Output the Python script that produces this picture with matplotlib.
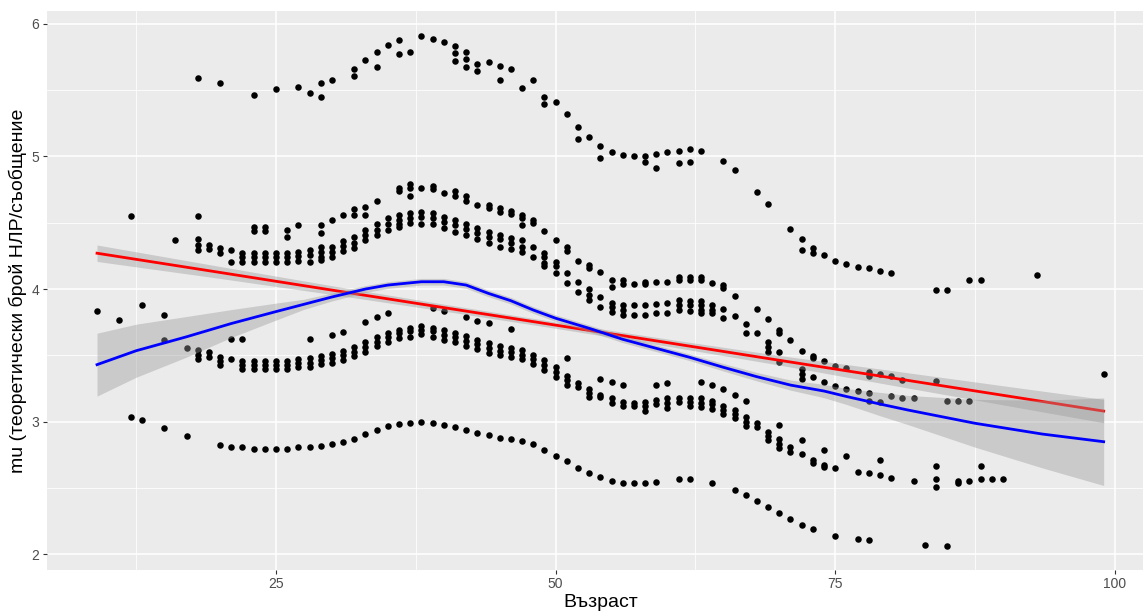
import matplotlib
matplotlib.use('Agg')
import matplotlib.pyplot as plt

plt.rcParams['font.family'] = ['Liberation Sans', 'DejaVu Sans']

# --- points, one list of mu values per age ---

top_age = [18, 20, 23, 25, 27, 28, 29, 30, 32, 33, 34, 35, 36, 37, 38, 39, 40, 41,
           42, 43, 44, 45, 46, 47, 48, 49, 50, 51, 52, 53, 54, 55, 56, 57, 58, 59,
           60, 61, 62, 63, 65, 66, 68, 69, 71, 72, 73, 74, 75, 76, 77, 78, 79, 80,
           84, 85, 87, 88, 93]
top_mu = [[5.59], [5.555], [5.46], [5.51], [5.52], [5.48], [5.555, 5.445], [5.573],
          [5.658, 5.606], [5.726], [5.784, 5.676], [5.84], [5.88, 5.77], [5.784],
          [5.907], [5.887], [5.864], [5.832, 5.777, 5.719], [5.787, 5.736, 5.674],
          [5.694, 5.641], [5.709], [5.683, 5.573], [5.658], [5.513], [5.573],
          [5.447, 5.395], [5.41], [5.317], [5.224, 5.128], [5.146], [5.078, 4.985],
          [5.035], [5.01], [5.003], [5.003, 4.955], [5.02, 4.914], [5.035],
          [5.043, 4.948], [5.053, 4.957], [5.043], [4.965], [4.897], [4.733], [4.64],
          [4.452], [4.377, 4.294], [4.307, 4.274], [4.256], [4.213], [4.188], [4.163],
          [4.156], [4.138], [4.118], [3.993], [3.993], [4.068], [4.068], [4.103]]

upper_age = [12, 16, 18, 19, 20, 21, 22, 23, 24, 25, 26, 27, 28, 29, 30, 31, 32, 33,
             34, 35, 36, 37, 38, 39, 40, 41, 42, 43, 44, 45, 46, 47, 48, 49, 50, 51,
             52, 53, 54, 55, 56, 57, 58, 59, 60, 61, 62, 63, 64, 65, 66, 67, 68, 69,
             70, 71, 72, 73, 74, 75, 76, 77, 78, 79, 80, 81, 82, 84, 85, 86, 87, 99]
upper_mu = [[4.548], [4.37], [4.548, 4.375, 4.332, 4.294], [4.332, 4.30], [4.307, 4.27],
            [4.294, 4.206], [4.27, 4.24, 4.206], [4.47, 4.44, 4.27, 4.24, 4.206],
            [4.47, 4.44, 4.27, 4.24, 4.206], [4.27, 4.24, 4.206],
            [4.445, 4.395, 4.27, 4.24, 4.206], [4.48, 4.28, 4.25, 4.214],
            [4.294, 4.256, 4.206], [4.48, 4.42, 4.32, 4.28, 4.244, 4.219],
            [4.52, 4.32, 4.28, 4.244], [4.555, 4.362, 4.324, 4.289],
            [4.6, 4.558, 4.39, 4.344, 4.307], [4.616, 4.558, 4.445, 4.407, 4.37],
            [4.666, 4.49, 4.445, 4.407], [4.533, 4.49, 4.445],
            [4.764, 4.74, 4.558, 4.52, 4.49, 4.465], [4.789, 4.764, 4.7, 4.57, 4.533, 4.495],
            [4.759, 4.578, 4.54, 4.49], [4.776, 4.752, 4.57, 4.533, 4.49],
            [4.726, 4.545, 4.507, 4.457], [4.74, 4.7, 4.52, 4.482, 4.432],
            [4.7, 4.662, 4.49, 4.45, 4.407], [4.633, 4.457, 4.42, 4.375],
            [4.633, 4.608, 4.432, 4.394, 4.349], [4.608, 4.583, 4.407, 4.375, 4.32],
            [4.59, 4.565, 4.382, 4.344, 4.3], [4.558, 4.533, 4.482, 4.37, 4.32, 4.277],
            [4.52, 4.5, 4.32, 4.239], [4.437, 4.274, 4.239, 4.2, 4.173],
            [4.37, 4.206, 4.176, 4.118], [4.314, 4.289, 4.123, 4.043],
            [4.213, 4.05, 3.975], [4.18, 4.156, 3.998, 3.955, 3.917],
            [4.128, 3.942, 3.867], [4.065, 4.013, 3.897, 3.862, 3.829],
            [4.068, 4.04, 3.88, 3.842, 3.804], [4.04, 3.88, 3.804],
            [4.055, 4.035, 3.88, 3.804], [4.05, 3.887, 3.817], [4.05, 3.897, 3.822],
            [4.093, 4.068, 3.917, 3.88, 3.842], [4.093, 4.068, 3.912, 3.88, 3.837],
            [4.093, 4.068, 3.912, 3.88, 3.842, 3.817], [4.043, 3.88, 3.842, 3.817],
            [4.03, 4.005, 3.847, 3.779], [3.947, 3.796], [3.736, 3.671], [3.847, 3.671],
            [3.772, 3.603, 3.565, 3.527], [3.69, 3.666, 3.527, 3.452], [3.616],
            [3.532, 3.395, 3.357, 3.319], [3.495, 3.478, 3.339], [3.455, 3.299],
            [3.42, 3.269], [3.402, 3.248], [3.231], [3.374, 3.346, 3.214, 3.153],
            [3.361, 3.148], [3.344, 3.196], [3.316, 3.18], [3.178], [3.306], [3.156],
            [3.156], [3.156], [3.359]]

lower_age = [9, 11, 13, 15, 17, 18, 19, 20, 21, 22, 23, 24, 25, 26, 27, 28, 29, 30, 31,
             32, 33, 34, 35, 36, 37, 38, 39, 40, 41, 42, 43, 44, 45, 46, 47, 48, 49, 50,
             51, 52, 53, 54, 55, 56, 57, 58, 59, 60, 61, 62, 63, 64, 65, 66, 67, 68, 69,
             70, 71, 72, 73, 74, 75, 76, 77, 78, 79, 80, 82, 84, 86, 87, 88, 89, 90]
lower_mu = [[3.836], [3.77], [3.879], [3.804, 3.616], [3.553], [3.54, 3.50, 3.472],
            [3.527, 3.49], [3.49, 3.457, 3.427], [3.623, 3.47], [3.62, 3.457, 3.427, 3.397],
            [3.457, 3.427, 3.397], [3.457, 3.427, 3.397], [3.457, 3.427, 3.397],
            [3.457, 3.427, 3.397], [3.472, 3.442, 3.412], [3.623, 3.478, 3.445, 3.414],
            [3.495, 3.465, 3.432], [3.653, 3.51, 3.478, 3.44], [3.678, 3.535, 3.50, 3.465],
            [3.565, 3.527, 3.495], [3.754, 3.603, 3.565, 3.527], [3.787, 3.64, 3.603, 3.57],
            [3.821, 3.67, 3.64, 3.603], [3.695, 3.666, 3.628], [3.71, 3.68, 3.64],
            [3.72, 3.69, 3.66], [3.855, 3.71, 3.68, 3.64], [3.836, 3.69, 3.653, 3.616],
            [3.666, 3.636, 3.598], [3.787, 3.645, 3.61, 3.573], [3.761, 3.616, 3.583, 3.545],
            [3.746, 3.59, 3.557, 3.52], [3.57, 3.535, 3.50], [3.7, 3.557, 3.523, 3.485],
            [3.54, 3.505, 3.47], [3.50, 3.47, 3.435], [3.465, 3.427, 3.39],
            [3.41, 3.376, 3.34], [3.478, 3.344, 3.314, 3.28], [3.29, 3.263],
            [3.244, 3.214, 3.184], [3.324, 3.2, 3.184], [3.301, 3.176, 3.143],
            [3.28, 3.15, 3.118], [3.143, 3.118], [3.15, 3.118, 3.083], [3.28, 3.163, 3.133],
            [3.29, 3.176, 3.138, 3.1], [3.176, 3.15], [3.176, 3.15, 3.118],
            [3.301, 3.176, 3.143, 3.113], [3.28, 3.158, 3.133, 3.093],
            [3.246, 3.118, 3.088, 3.058], [3.2, 3.088, 3.058, 3.027],
            [3.156, 3.037, 3.0, 2.97], [2.987, 2.962], [2.924, 2.892, 2.862],
            [2.975, 2.867, 2.832, 2.8], [2.811, 2.773], [2.862, 2.756], [2.711, 2.69],
            [2.786, 2.673, 2.656], [2.648], [2.743], [2.623], [2.61], [2.711, 2.6],
            [2.573], [2.555], [2.668, 2.565, 2.51], [2.55, 2.54], [2.55], [2.668, 2.565],
            [2.565], [2.565]]

bottom_age = [12, 13, 15, 17, 20, 21, 22, 23, 24, 25, 26, 27, 28, 29, 30, 31, 32, 33,
              34, 35, 36, 37, 38, 39, 40, 41, 42, 43, 44, 45, 46, 47, 48, 49, 50, 51,
              52, 53, 54, 55, 56, 57, 58, 59, 61, 62, 64, 66, 67, 68, 69, 70, 71, 72,
              73, 75, 77, 78, 83, 85]
bottom_mu = [3.035, 3.01, 2.95, 2.89, 2.822, 2.807, 2.807, 2.794, 2.794, 2.794, 2.794,
             2.807, 2.811, 2.82, 2.831, 2.846, 2.871, 2.907, 2.939, 2.967, 2.985, 2.992,
             3.0, 2.992, 2.975, 2.957, 2.939, 2.914, 2.897, 2.879, 2.871, 2.854, 2.829,
             2.786, 2.743, 2.703, 2.648, 2.615, 2.58, 2.555, 2.54, 2.54, 2.54, 2.547,
             2.565, 2.565, 2.54, 2.485, 2.444, 2.402, 2.359, 2.309, 2.266, 2.221, 2.188,
             2.138, 2.113, 2.105, 2.07, 2.06]

# --- smoothers ---

red_age = [9, 20, 30, 40, 50, 60, 70, 80, 90, 99]
red_fit = [4.27, 4.125, 3.992, 3.86, 3.728, 3.596, 3.463, 3.331, 3.199, 3.08]
red_lo = [4.208, 4.08, 3.959, 3.834, 3.704, 3.569, 3.427, 3.276, 3.127, 2.992]
red_hi = [4.332, 4.17, 4.025, 3.886, 3.752, 3.623, 3.499, 3.386, 3.271, 3.168]

blue_age = [9, 12.5, 17, 21, 25, 27.5, 30, 33, 35, 38, 40, 42, 44, 46, 48, 50, 53, 56,
            59, 62, 65, 68, 71, 74, 76, 79, 81.5, 87.5, 93.5, 99]
blue_fit = [3.43, 3.535, 3.64, 3.74, 3.83, 3.885, 3.94, 4.0, 4.03, 4.055, 4.055, 4.03,
            3.967, 3.912, 3.842, 3.78, 3.704, 3.621, 3.553, 3.485, 3.41, 3.339, 3.276,
            3.231, 3.19, 3.133, 3.088, 2.988, 2.907, 2.849]
blue_se = [0.237, 0.2, 0.153, 0.105, 0.064, 0.038, 0.03, 0.026, 0.025, 0.025, 0.025,
           0.025, 0.025, 0.025, 0.025, 0.025, 0.025, 0.025, 0.025, 0.025, 0.028, 0.032,
           0.038, 0.05, 0.06, 0.088, 0.11, 0.18, 0.255, 0.33]


def flatten(ages, vals):
    xs, ys = [], []
    for a, v in zip(ages, vals):
        xs += [a] * len(v)
        ys += v
    return xs, ys


def main():
    fig = plt.figure(figsize=(11.43, 6.13), dpi=100)
    ax = fig.add_axes([46.7 / 1143, 43 / 613, 1107.3 / 1143, 559 / 613])
    ax.set_facecolor('#EBEBEB')
    for s in ax.spines.values():
        s.set_visible(False)

    ax.set_xlim(4.5, 103.5)
    ax.set_ylim(1.882, 6.096)
    ax.set_xticks([25, 50, 75, 100])
    ax.set_yticks([2, 3, 4, 5, 6])
    ax.set_xticks([12.5, 37.5, 62.5, 87.5], minor=True)
    ax.set_yticks([2.5, 3.5, 4.5, 5.5], minor=True)
    ax.grid(which='major', color='white', linewidth=1.1)
    ax.grid(which='minor', color='white', linewidth=0.55)
    ax.set_axisbelow(True)
    ax.tick_params(which='major', length=2.7, width=0.8, color='#333333',
                   labelcolor='#4D4D4D', labelsize=10, pad=2.5)
    ax.tick_params(which='minor', length=0)

    xs, ys = [], []
    for ages, vals in [(top_age, top_mu), (upper_age, upper_mu), (lower_age, lower_mu)]:
        x, y = flatten(ages, vals)
        xs += x
        ys += y
    xs += bottom_age
    ys += bottom_mu
    ax.scatter(xs, ys, s=22, color='black', linewidths=0, zorder=2)

    ax.fill_between(red_age, red_lo, red_hi, color='#999999', alpha=0.4,
                    linewidth=0, zorder=3)
    ax.plot(red_age, red_fit, color='red', linewidth=2, zorder=4)

    blue_lo = [f - s for f, s in zip(blue_fit, blue_se)]
    blue_hi = [f + s for f, s in zip(blue_fit, blue_se)]
    ax.fill_between(blue_age, blue_lo, blue_hi, color='#999999', alpha=0.4,
                    linewidth=0, zorder=5)
    ax.plot(blue_age, blue_fit, color='blue', linewidth=2, zorder=6)

    ax.set_xlabel('Възраст', fontsize=14, labelpad=2)
    ax.set_ylabel('mu (теоретически брой НЛР/съобщение', fontsize=14, labelpad=3)

    fig.savefig('out.png', dpi=100)


if __name__ == '__main__':
    main()
